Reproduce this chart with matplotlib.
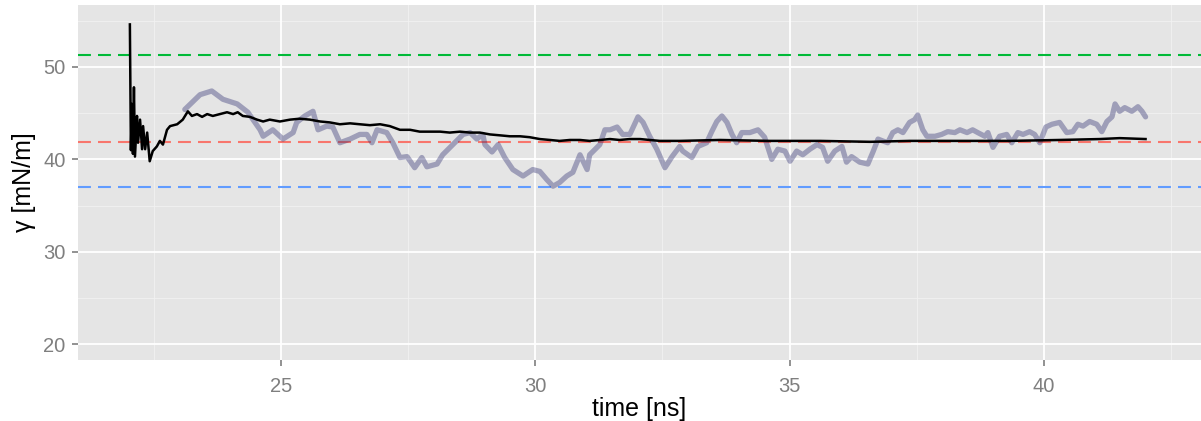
import matplotlib.pyplot as plt

plt.rcParams['font.family'] = ['Liberation Sans', 'DejaVu Sans']

# instantaneous (block-averaged) surface tension
t_inst = [23.11, 23.41, 23.64, 23.86, 24.14, 24.35, 24.59, 24.65, 24.84, 25.04,
          25.24, 25.31, 25.47, 25.63, 25.73, 25.90, 26.02, 26.16, 26.36, 26.55,
          26.69, 26.79, 26.89, 27.08, 27.20, 27.34, 27.48, 27.63, 27.77, 27.87,
          28.07, 28.18, 28.38, 28.58, 28.72, 28.85, 28.97, 29.01, 29.15, 29.27,
          29.40, 29.56, 29.76, 29.95, 30.09, 30.23, 30.35, 30.48, 30.62, 30.74,
          30.88, 31.02, 31.07, 31.27, 31.37, 31.47, 31.61, 31.72, 31.86, 32.02,
          32.12, 32.25, 32.39, 32.55, 32.69, 32.84, 32.90, 33.08, 33.20, 33.37,
          33.47, 33.57, 33.67, 33.77, 33.87, 33.96, 34.06, 34.22, 34.38, 34.51,
          34.65, 34.77, 34.91, 35.01, 35.14, 35.26, 35.40, 35.54, 35.65, 35.75,
          35.89, 36.03, 36.12, 36.22, 36.38, 36.54, 36.64, 36.74, 36.83, 36.93,
          37.03, 37.13, 37.23, 37.36, 37.46, 37.52, 37.62, 37.70, 37.86, 37.99,
          38.11, 38.25, 38.35, 38.49, 38.60, 38.70, 38.84, 38.90, 39.00, 39.13,
          39.27, 39.37, 39.49, 39.59, 39.72, 39.82, 39.92, 40.04, 40.16, 40.31,
          40.45, 40.57, 40.67, 40.77, 40.90, 41.04, 41.14, 41.24, 41.34, 41.40,
          41.49, 41.59, 41.73, 41.85, 41.93, 42.00]
g_inst = [45.4, 47.0, 47.4, 46.5, 46.0, 45.1, 43.2, 42.5, 43.2, 42.2,
          42.9, 44.0, 44.7, 45.2, 43.2, 43.6, 43.5, 41.8, 42.2, 42.7,
          42.7, 41.8, 43.2, 42.9, 41.8, 40.2, 40.3, 39.1, 40.2, 39.2,
          39.5, 40.5, 41.6, 42.7, 42.9, 42.2, 42.7, 41.6, 40.8, 41.6,
          40.2, 38.9, 38.2, 38.9, 38.7, 37.8, 37.1, 37.5, 38.2, 38.6,
          40.5, 38.9, 40.5, 41.6, 43.2, 43.2, 43.5, 42.7, 42.7, 44.6,
          44.0, 42.5, 41.1, 39.1, 40.3, 41.4, 40.9, 40.2, 41.4, 41.8,
          43.0, 44.1, 44.7, 44.0, 42.7, 41.8, 42.9, 42.9, 43.2, 42.4,
          40.0, 41.1, 40.9, 39.8, 40.9, 40.5, 41.1, 41.6, 41.3, 39.8,
          40.9, 41.4, 39.7, 40.3, 39.7, 39.5, 40.8, 42.2, 42.0, 41.8,
          42.9, 43.2, 42.9, 44.0, 44.3, 44.8, 43.2, 42.5, 42.5, 42.7,
          43.0, 42.9, 43.2, 42.9, 43.2, 42.9, 42.5, 42.9, 41.3, 42.5,
          42.7, 41.8, 42.9, 42.7, 43.0, 42.7, 41.8, 43.5, 43.8, 44.0,
          42.9, 43.0, 43.8, 43.6, 44.1, 43.8, 43.0, 44.1, 44.6, 46.0,
          45.2, 45.6, 45.2, 45.7, 45.2, 44.6]

# running (cumulative) average
t_avg = [22.03, 22.05, 22.07, 22.09, 22.11, 22.13, 22.17, 22.19, 22.23, 22.27,
         22.29, 22.33, 22.37, 22.42, 22.48, 22.56, 22.62, 22.68, 22.76, 22.82,
         22.96, 23.07, 23.17, 23.25, 23.35, 23.45, 23.55, 23.66, 23.80, 23.94,
         24.06, 24.15, 24.25, 24.39, 24.53, 24.65, 24.78, 24.98, 25.18, 25.37,
         25.57, 25.77, 25.96, 26.16, 26.36, 26.55, 26.75, 26.95, 27.14, 27.34,
         27.54, 27.73, 27.93, 28.13, 28.32, 28.52, 28.72, 28.91, 29.11, 29.31,
         29.50, 29.70, 29.89, 30.09, 30.29, 30.48, 30.68, 30.88, 31.07, 31.27,
         31.47, 31.66, 31.86, 32.06, 32.25, 32.45, 32.65, 32.84, 33.63, 34.61,
         35.60, 36.58, 37.36, 38.35, 39.33, 40.31, 41.10, 41.49, 42.00]
g_avg = [54.6, 41.0, 46.0, 40.6, 47.8, 40.3, 44.7, 41.8, 44.3, 41.1,
         43.6, 41.1, 42.9, 39.8, 40.9, 41.4, 42.0, 41.6, 43.2, 43.6,
         43.8, 44.3, 45.2, 44.7, 44.9, 44.6, 44.9, 44.7, 44.9, 45.1,
         44.9, 45.1, 44.7, 44.6, 44.3, 44.1, 44.3, 44.1, 44.3, 44.4,
         44.3, 44.1, 44.0, 43.8, 43.9, 43.8, 43.7, 43.8, 43.6, 43.2,
         43.2, 43.0, 43.0, 43.0, 42.9, 43.0, 42.9, 42.9, 42.7, 42.6,
         42.5, 42.5, 42.4, 42.2, 42.1, 42.0, 42.1, 42.1, 42.0, 42.1,
         42.2, 42.1, 42.2, 42.2, 42.1, 42.0, 42.0, 42.0, 42.1, 42.0,
         42.0, 41.9, 42.0, 42.0, 42.0, 42.1, 42.2, 42.3, 42.2]

# reference values
ref_values = [51.3, 41.9, 37.0]
ref_colors = ['#00BA38', '#F8766D', '#619CFF']

fig = plt.figure(figsize=(12.01, 4.21), dpi=100)
ax = fig.add_axes([78 / 1201, 1 - 360 / 421, 1 - 78 / 1201, 355 / 421])
ax.set_facecolor('#E5E5E5')

# grid like ggplot
for x in [22.5, 27.5, 32.5, 37.5, 42.5]:
    ax.axvline(x, color='#F2F2F2', lw=0.6, zorder=0)
for y in [25, 35, 45, 55]:
    ax.axhline(y, color='#F2F2F2', lw=0.6, zorder=0)
for x in [25, 30, 35, 40]:
    ax.axvline(x, color='white', lw=1.3, zorder=0)
for y in [20, 30, 40, 50]:
    ax.axhline(y, color='white', lw=1.3, zorder=0)

for v, c in zip(ref_values, ref_colors):
    ax.axhline(v, color=c, lw=1.5, linestyle=(0, (6.2, 3.4)), zorder=1)

ax.plot(t_inst, g_inst, color='#2B2B70', alpha=0.38, lw=3.8, zorder=2,
        solid_joinstyle='round', solid_capstyle='round')
ax.plot(t_avg, g_avg, color='black', lw=1.8, zorder=3)

ax.set_xlim(21.01, 43.09)
ax.set_ylim(18.3, 56.7)
ax.set_xticks([25, 30, 35, 40])
ax.set_yticks([20, 30, 40, 50])
for s in ax.spines.values():
    s.set_visible(False)
ax.tick_params(colors='#7F7F7F', labelsize=14.5, length=4, width=1.2,
               labelcolor='#7F7F7F', pad=5)
ax.tick_params(axis='x', pad=8)

ax.set_xlabel('time [ns]', fontsize=18, labelpad=1)
ax.set_ylabel('γ [mN/m]', fontsize=18, labelpad=5)

plt.savefig('out.png', dpi=100)
